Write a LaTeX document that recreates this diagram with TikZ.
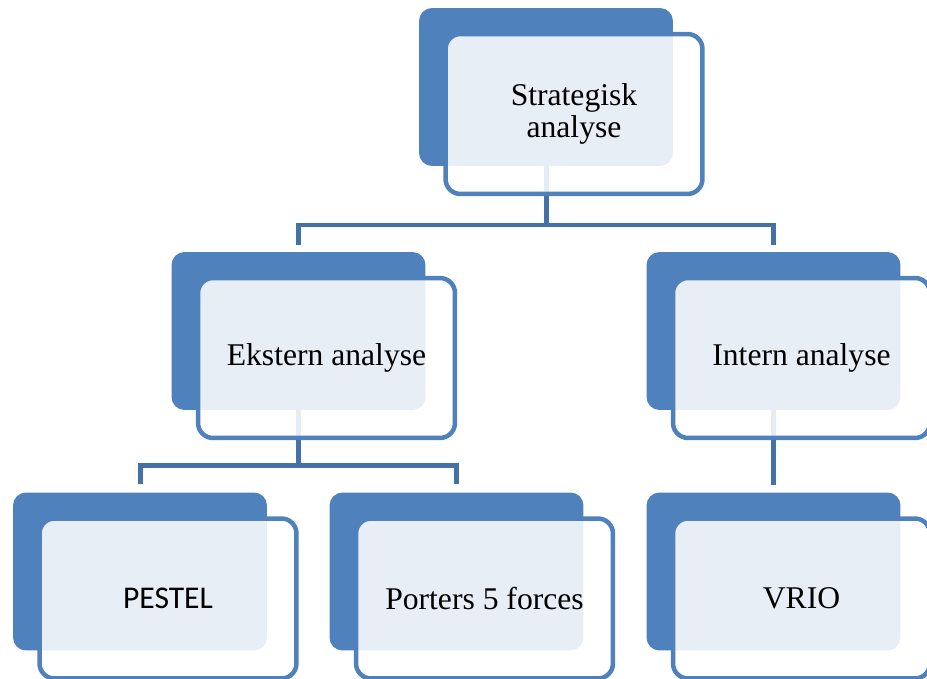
\documentclass[tikz,border=0pt]{standalone}
\usepackage{fontspec}
\setmainfont{Liberation Serif}
\newfontfamily\calibrifont{Carlito}
\usetikzlibrary{positioning, backgrounds}

\definecolor{smartblaa}{HTML}{4F81BD}
\definecolor{linjeblaa}{HTML}{4371A8}

\begin{document}
\begin{tikzpicture}[
    x=0.02cm, y=-0.02cm,
    every node/.style={font=\fontsize{18}{18.4}\selectfont},
    bagkasse/.style={rectangle, rounded corners=0.26cm, fill=smartblaa, minimum width=5.08cm, minimum height=3.16cm},
    forkasse/.style={rectangle, rounded corners=0.3cm, draw=smartblaa, line width=0.09cm, fill=white, fill opacity=0.87, text opacity=1, minimum width=5.14cm, minimum height=3.2cm, align=center, xshift=0.56cm, yshift=-0.54cm},
    forbindelse/.style={draw=linjeblaa, line width=0.1cm}
  ]
  \useasboundingbox (0,0) rectangle (927,679);

  % ---------------- Niveau 1 ----------------
  \node (strategiBag) [bagkasse] at (546,87) {};
  \node (strategi) [forkasse] at (strategiBag.center) {Strategisk\\analyse};

  % ---------------- Niveau 2 ----------------
  \node (eksternBag) [bagkasse] at (298.5,331) {};
  \node (ekstern) [forkasse] at (eksternBag.center) {Ekstern analyse};
  \node (internBag) [bagkasse] at (773.5,331) {};
  \node (intern) [forkasse] at (internBag.center) {Intern analyse};

  % ---------------- Niveau 3 ----------------
  \node (pestelBag) [bagkasse] at (140,571.5) {};
  \node (pestel) [forkasse] at (pestelBag.center) {\calibrifont PESTEL};
  \node (portersBag) [bagkasse] at (456.5,571.5) {};
  \node (porters) [forkasse] at (portersBag.center) {Porters 5 forces};
  \node (vrioBag) [bagkasse] at (773.5,571.5) {};
  \node (vrio) [forkasse] at (vrioBag.center) {VRIO};

  % Forgreningspunkter
  \coordinate (gren1) at (546,225);
  \coordinate (gren2) at (298.5,465);

  % Linjer bag kasserne
  \begin{pgfonlayer}{background}
    \draw[forbindelse] (strategiBag.south) -- (gren1);
    \draw[forbindelse, shorten >=0.14cm] (gren1) -| (eksternBag.north);
    \draw[forbindelse, shorten >=0.14cm] (gren1) -| (internBag.north);
    \draw[forbindelse] (eksternBag.south) -- (gren2);
    \draw[forbindelse, shorten >=0.16cm] (gren2) -| (pestelBag.north);
    \draw[forbindelse, shorten >=0.16cm] (gren2) -| (portersBag.north);
    \draw[forbindelse, shorten >=0.14cm] (internBag.south) -- (vrioBag.north);
  \end{pgfonlayer}

\end{tikzpicture}
\end{document}
